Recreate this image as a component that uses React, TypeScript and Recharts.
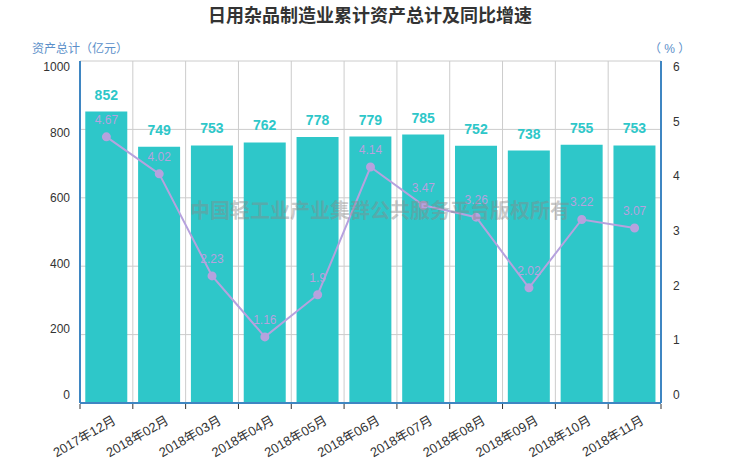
import React from 'react';
import {
    ComposedChart, Bar, Line, XAxis, YAxis, CartesianGrid, LabelList
} from 'recharts';

const months = ['2017年12月', '2018年02月', '2018年03月', '2018年04月', '2018年05月', '2018年06月',
    '2018年07月', '2018年08月', '2018年09月', '2018年10月', '2018年11月'];
const assets = [852, 749, 753, 762, 778, 779, 785, 752, 738, 755, 753];
const growth = [4.67, 4.02, 2.23, 1.16, 1.9, 4.14, 3.47, 3.26, 2.02, 3.22, 3.07];
const leftTicks = [0, 200, 400, 600, 800, 1000];
const rightTicks = [0, 1, 2, 3, 4, 5, 6];
const boundaryTicks = [0, 1, 2, 3, 4, 5, 6, 7, 8, 9, 10, 11];

const FONT = "'Liberation Sans', 'Noto Sans CJK SC', sans-serif";
const TEAL = '#2ec7c9';
const PURPLE = '#b6a2de';
const AXIS_BLUE = '#3f86c2';

const data = months.map((m, i) => ({ month: m, assets: assets[i], growth: growth[i], idx: i + 0.5 }));

// echarts squeezes the y labels a little inside the plot area
const squeeze = (y: number) => 67 + (y - 61) * (328 / 342);

const LeftTick = ({ x, y, payload }: any) => (
    <text x={x} y={squeeze(y)} textAnchor="end" dominantBaseline="central" fill="#333" fontSize={12} fontFamily={FONT}>
        {payload.value}
    </text>
);

const RightTick = ({ x, y, payload }: any) => (
    <text x={x} y={squeeze(y)} textAnchor="start" dominantBaseline="central" fill="#333" fontSize={12} fontFamily={FONT}>
        {payload.value}
    </text>
);

const MonthTick = ({ x, y, payload }: any) => (
    <text x={x + 8} y={y + 8} textAnchor="end" fill="#333" fontSize={13} fontFamily={FONT}
        transform={`rotate(-30, ${x + 8}, ${y + 8})`} dominantBaseline="central">
        {payload.value}
    </text>
);

// small marks under the axis on the category boundaries
const BoundaryMark = ({ x, payload }: any) => (
    <line x1={x} x2={x} y1={404} y2={409} stroke="#333" strokeWidth={1} key={payload.value} />
);

// grid lines sit on the category boundaries, like echarts
const boundaryLines = ({ offset }: any) =>
    boundaryTicks.map(i => offset.left + (i * offset.width) / months.length);

export default function App() {
    return (
        <div style={{ position: 'absolute', left: 0, top: 0, width: 740, height: 462, background: '#fff', fontFamily: FONT }}>
            <ComposedChart width={740} height={462} data={data} barCategoryGap="10%"
                margin={{ top: 61, right: 0, bottom: 0, left: 0 }}>
                <CartesianGrid stroke="#ccc" yAxisId="left" verticalCoordinatesGenerator={boundaryLines} />
                <XAxis xAxisId="cat" dataKey="month" height={58} interval={0} tick={<MonthTick />}
                    axisLine={{ stroke: AXIS_BLUE, strokeWidth: 2 }} tickLine={false} />
                <XAxis xAxisId="grid" type="number" dataKey="idx" domain={[0, 11]} ticks={boundaryTicks}
                    height={1} interval={0} tick={<BoundaryMark />} axisLine={false} tickLine={false} />
                <YAxis yAxisId="left" width={80} domain={[0, 1000]} ticks={leftTicks} tick={<LeftTick />}
                    axisLine={{ stroke: AXIS_BLUE, strokeWidth: 2 }} tickLine={false} tickMargin={4} />
                <YAxis yAxisId="right" orientation="right" width={79} domain={[0, 6]} ticks={rightTicks}
                    tick={<RightTick />} axisLine={{ stroke: AXIS_BLUE, strokeWidth: 2 }} tickLine={false} tickMargin={6} />
                <Bar xAxisId="cat" yAxisId="left" dataKey="assets" fill={TEAL} isAnimationActive={false}>
                    <LabelList dataKey="assets" position="top" offset={12} fill={TEAL} fontSize={14}
                        fontWeight="bold" fontFamily={FONT} />
                </Bar>
                <Line xAxisId="cat" yAxisId="right" dataKey="growth" stroke={PURPLE} strokeWidth={2}
                    dot={{ r: 3.5, fill: PURPLE, stroke: PURPLE }} isAnimationActive={false}>
                    <LabelList dataKey="growth" position="top" offset={13} fill={PURPLE} fontSize={12}
                        fontFamily={FONT} />
                </Line>
                <text x={370} y={16} textAnchor="middle" dominantBaseline="central" fontSize={18}
                    fontWeight="bold" fill="#333" fontFamily={FONT}>
                    日用杂品制造业累计资产总计及同比增速
                </text>
                <text x={32} y={49} dominantBaseline="central" fontSize={12} fill="#5b8fc9" fontFamily={FONT}>
                    资产总计（亿元）
                </text>
                <text x={649} y={49} dominantBaseline="central" fontSize={12} fill="#5b8fc9" fontFamily={FONT}>
                    （ % ）
                </text>
            </ComposedChart>
            <svg width={740} height={462} style={{ position: 'absolute', left: 0, top: 0, pointerEvents: 'none' }}>
                <text x={380} y={211} textAnchor="middle" dominantBaseline="central" fontSize={20}
                    fontWeight="bold" fill="#888" fillOpacity={0.45} fontFamily={FONT}>
                    中国轻工业产业集群公共服务平台版权所有
                </text>
            </svg>
        </div>
    );
}
